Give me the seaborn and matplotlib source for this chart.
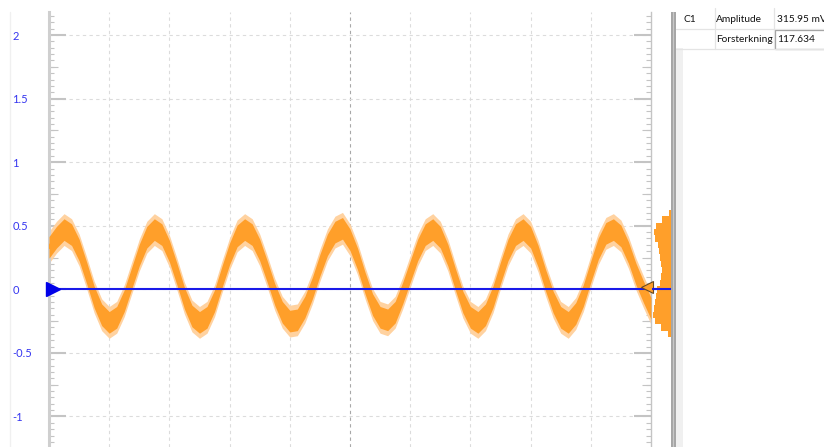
"""Gjenskaper oscilloskop-skjermbildet (kanal C1 med støy, blå referanse) med seaborn."""
import matplotlib
matplotlib.use("Agg")
import matplotlib.pyplot as plt
import matplotlib.ticker as mticker
from matplotlib.patches import Rectangle
import numpy as np
import seaborn as sns

W, H = 824, 447

# C1 (oransje): midtlinjen i det støyete signalet, lest av bildet, 8 punkter per rute
c1_volt = [
    0.33, 0.41, 0.47, 0.43, 0.31, 0.13, -0.06, -0.20, -0.26, -0.22,
    -0.09, 0.09, 0.27, 0.41, 0.47, 0.43, 0.30, 0.12, -0.07, -0.21,
    -0.26, -0.22, -0.09, 0.10, 0.28, 0.42, 0.47, 0.43, 0.31, 0.14,
    -0.04, -0.18, -0.25, -0.24, -0.14, 0.01, 0.19, 0.35, 0.45, 0.48,
    0.39, 0.24, 0.05, -0.12, -0.22, -0.24, -0.18, -0.03, 0.14, 0.31,
    0.43, 0.47, 0.41, 0.27, 0.08, -0.10, -0.22, -0.26, -0.20, -0.06,
    0.13, 0.31, 0.43, 0.47, 0.41, 0.26, 0.07, -0.10, -0.22, -0.26,
    -0.19, -0.05, 0.14, 0.32, 0.44, 0.47, 0.42, 0.29, 0.12, -0.02,
    -0.15,
]
c1_noise = 0.125         # ytterkant av støybåndet (spisser)
c1_noise_core = 0.085    # tett del av båndet
time_div = np.linspace(0, 10, len(c1_volt))

# blå kanal: flat linje rett over null
blue_t = [0.0, 10.32]
blue_v = [0.004, 0.004]

# fordeling av C1-verdier (stolpene til høyre for plottet)
hist_levels = [0.60, 0.55, 0.50, 0.45, 0.40, 0.35, 0.30, 0.25, 0.20, 0.15,
               0.10, 0.05, 0.00, -0.05, -0.10, -0.15, -0.20, -0.25, -0.30, -0.35]
hist_share = [0.10, 0.45, 0.80, 0.90, 0.85, 0.70, 0.65, 0.60, 0.55, 0.50,
              0.55, 0.60, 0.75, 0.80, 0.85, 0.90, 0.95, 0.85, 0.55, 0.15]

y_ticks = [-1, -0.5, 0, 0.5, 1, 1.5, 2]
y_tick_labels = ["-1", "-0.5", "0", "0.5", "1", "1.5", "2"]
mid_ticks = [-1.25, -0.75, -0.25, 0.25, 0.75, 1.25, 1.75]

table_cells = [
    ("C1", 684, 19), ("Amplitude", 716, 19), ("315.95 mV", 777, 19),
    ("Forsterkning", 716, 39), ("117.634", 777, 39),
]

ORANGE = "#ff9f2a"
ORANGE_LIGHT = "#ffd2a0"
BLUE = "#1a1ae8"
LABEL_BLUE = "#3535f0"
TICK_GRAY = "#c4c4c4"
GRID_GRAY = "#dcdcdc"

sns.set_theme(style="white")
plt.rcParams["font.family"] = ["Lato", "DejaVu Sans"]

fig = plt.figure(figsize=(W / 100, H / 100), dpi=100)
fig.patch.set_facecolor("white")


def px_axes(x0, y0, x1, y1):
    return fig.add_axes([x0 / W, 1 - y1 / H, (x1 - x0) / W, (y1 - y0) / H])


YLIM = (-1.24, 2.181)

ax = px_axes(49, 12, 651, 447)
ax.set_xlim(0, 10)
ax.set_ylim(*YLIM)
ax.set_facecolor("white")

# rutenett
for xv in range(1, 10):
    ax.axvline(xv, color="#a8a8a8" if xv == 5 else GRID_GRAY, lw=0.8,
               ls=(0, (3, 3)), zorder=0)
for yv in y_ticks:
    ax.axhline(yv, color=GRID_GRAY, lw=0.8, ls=(0, (3, 3)), zorder=0)

# signal C1
c1 = np.array(c1_volt)
ax.fill_between(time_div, c1 - c1_noise, c1 + c1_noise,
                color=ORANGE_LIGHT, lw=0, zorder=2)
ax.fill_between(time_div, c1 - c1_noise_core, c1 + c1_noise_core,
                color=ORANGE, lw=0, zorder=3)
sns.lineplot(x=time_div, y=c1_volt, color=ORANGE, lw=2.5, ax=ax, zorder=3)

# blå kanal
sns.lineplot(x=blue_t, y=blue_v, color=BLUE, lw=1.5, ax=ax, zorder=4)
ax.get_lines()[-1].set_clip_on(False)

# markører for nivå
ax.plot(0.07, 0.0, marker=">", ms=10, color="#0000e8", clip_on=False, zorder=6)
ax.plot(9.93, 0.015, marker="<", ms=9, mfc=ORANGE, mec="#6b4a1f", mew=0.8,
        clip_on=False, zorder=6)

# akser og merker
ax.set_xticks([])
ax.yaxis.set_major_locator(mticker.FixedLocator(y_ticks))
ax.yaxis.set_major_formatter(mticker.FixedFormatter(y_tick_labels))
ax.yaxis.set_minor_locator(mticker.MultipleLocator(0.05))
ax.tick_params(axis="y", which="major", direction="in", length=12, width=1.5,
               color=TICK_GRAY, left=True, right=True, labelleft=True,
               labelcolor=LABEL_BLUE, labelsize=8, pad=26.5)
ax.tick_params(axis="y", which="minor", direction="in", length=3.5, width=0.8,
               color=TICK_GRAY, left=True, right=True)
for lbl in ax.get_yticklabels():
    lbl.set_horizontalalignment("left")
for side in ("top", "bottom"):
    ax.spines[side].set_visible(False)
ax.spines["left"].set_color("#cfcfcf")
ax.spines["left"].set_linewidth(2.2)
ax.spines["right"].set_color(TICK_GRAY)
ax.spines["right"].set_linewidth(1.0)
ax.set_xlabel("")
ax.set_ylabel("")

for loc in ("left", "right"):
    sec = ax.secondary_yaxis(loc)
    sec.set_yticks(mid_ticks)
    sec.tick_params(axis="y", direction="in", length=6.5, width=0.8, color=TICK_GRAY,
                    labelleft=False, labelright=False)
    sec.yaxis.set_minor_locator(mticker.NullLocator())
    for sp in sec.spines.values():
        sp.set_visible(False)

# fordeling til høyre
hax = px_axes(652, 12, 671, 447)
hax.set_ylim(*YLIM)
hax.barh(hist_levels, hist_share, height=0.05, left=0, color=ORANGE, lw=0)
hax.set_xlim(1.0, 0.0)
hax.axhline(0.004, color=BLUE, lw=1.5)
hax.axis("off")

# panel med tabell
ov = fig.add_axes([0, 0, 1, 1], zorder=10)
ov.set_xlim(0, W)
ov.set_ylim(H, 0)
ov.axis("off")
ov.patch.set_alpha(0)

ov.plot([10.5, 10.5], [12, H], color="#f0f0f0", lw=1)
ov.add_patch(Rectangle((671, 12), 5, H - 12, color="#a6a6a6", lw=0))
ov.plot([673.5, 673.5], [12, H], color="#c8c8c8", lw=0.8)
ov.add_patch(Rectangle((676, 48), 7, H - 48, color="#f0f0f0", lw=0))
for yl in (29, 48.5):
    ov.plot([676, W], [yl, yl], color="#e4e4e4", lw=0.9)
for xl in (715, 774):
    ov.plot([xl, xl], [8, 48.5], color="#e4e4e4", lw=0.9)
ov.add_patch(Rectangle((775, 29.5), 52, 19, fill=False, ec="#9c9c9c", lw=0.9))
for text, xt, yt in table_cells:
    ov.text(xt, yt, text, ha="left", va="center", fontsize=7.3, color="#111111",
            clip_on=False)

fig.savefig("out.png", dpi=100)
